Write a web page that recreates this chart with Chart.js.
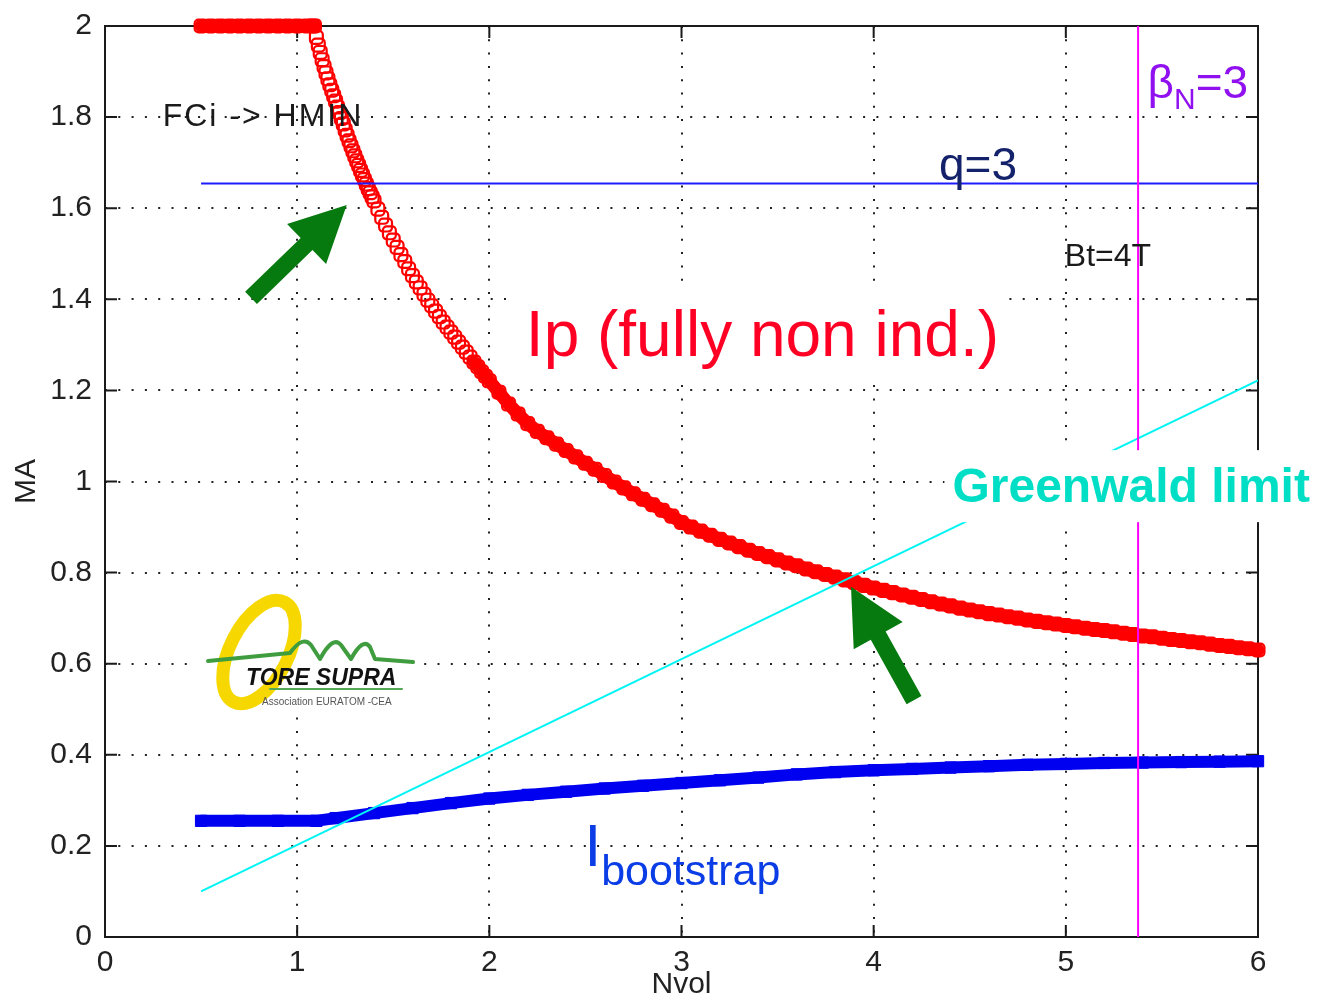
<!DOCTYPE html>
<html><head><meta charset="utf-8">
<script src="https://cdn.jsdelivr.net/npm/chart.js@4"></script>
<style>html,body{margin:0;padding:0;background:#fff}#wrap{width:1318px;height:1003px;position:relative}</style>
</head><body><div id="wrap"><canvas id="c" width="1318" height="1003"></canvas></div>
<script>
// ---------- data ----------
const ipX = [
 0.50,0.55,0.60,0.65,0.70,0.75,0.80,0.85,0.90,0.95,1.00,1.05,
 1.08,1.09,1.10,1.11,1.12,1.13,1.14,1.15,1.16,1.17,1.18,1.19,1.20,
 1.21,1.22,1.23,1.24,1.25,1.26,1.27,1.28,1.29,1.30,
 1.31,1.32,1.33,1.34,1.35,1.36,1.37,1.38,1.39,1.40,
 1.42,1.44,1.46,1.48,1.50,1.52,1.54,1.56,1.58,1.60,
 1.62,1.64,1.66,1.68,1.70,1.72,1.74,1.76,1.78,1.80,
 1.82,1.84,1.86,1.88,1.90,1.92,1.94,1.96,1.98,2.00,
 2.05,2.10,2.15,2.20,2.25,2.30,2.35,2.40,2.45,2.50,
 2.55,2.60,2.65,2.70,2.75,2.80,2.85,2.90,2.95,3.00,
 3.05,3.10,3.15,3.20,3.25,3.30,3.35,3.40,3.45,3.50,
 3.55,3.60,3.65,3.70,3.75,3.80,3.85,3.90,3.95,4.00,
 4.05,4.10,4.15,4.20,4.25,4.30,4.35,4.40,4.45,4.50,
 4.55,4.60,4.65,4.70,4.75,4.80,4.85,4.90,4.95,5.00,
 5.05,5.10,5.15,5.20,5.25,5.30,5.35,5.40,5.45,5.50,
 5.55,5.60,5.65,5.70,5.75,5.80,5.85,5.90,5.95,6.00
];
const ipY = [
 2.000,2.000,2.000,2.000,2.000,2.000,2.000,2.000,2.000,2.000,2.000,2.000,
 2.000,2.000,1.975,1.958,1.942,1.926,1.911,1.897,1.884,1.871,1.859,1.847,1.835,
 1.822,1.810,1.797,1.785,1.772,1.760,1.748,1.737,1.726,1.715,
 1.704,1.694,1.683,1.673,1.663,1.653,1.643,1.634,1.625,1.616,
 1.598,1.580,1.563,1.546,1.530,1.514,1.498,1.483,1.467,1.452,
 1.438,1.425,1.411,1.398,1.386,1.374,1.362,1.350,1.339,1.328,
 1.317,1.306,1.295,1.284,1.273,1.262,1.252,1.241,1.231,1.221,
 1.196,1.170,1.148,1.127,1.110,1.096,1.082,1.068,1.054,1.040,
 1.027,1.013,0.999,0.986,0.973,0.961,0.949,0.937,0.924,0.910,
 0.900,0.891,0.882,0.873,0.865,0.857,0.849,0.842,0.835,0.828,
 0.821,0.815,0.808,0.802,0.796,0.790,0.784,0.778,0.772,0.766,
 0.761,0.756,0.751,0.746,0.741,0.736,0.731,0.727,0.722,0.718,
 0.714,0.710,0.707,0.703,0.700,0.696,0.693,0.690,0.687,0.684,
 0.681,0.678,0.675,0.673,0.670,0.667,0.664,0.661,0.659,0.656,
 0.653,0.651,0.648,0.646,0.643,0.640,0.638,0.635,0.633,0.630
];
const bsX = [0.5,0.7,0.9,1.1,
 1.2,1.4,1.6,1.8,2.0,2.2,2.4,2.6,2.8,3.0,3.2,3.4,3.6,3.8,4.0,4.2,4.4,4.6,4.8,5.0,5.2,5.4,5.6,5.8,6.0];
const bsY = [0.255,0.255,0.255,0.255,
 0.261,0.272,0.283,0.294,0.304,0.312,0.319,0.326,0.332,0.338,0.344,0.350,0.357,0.362,0.366,0.369,0.372,0.375,0.378,0.380,0.382,0.383,0.384,0.385,0.386];
const gwX = [0.5, 6.0];          // Greenwald limit
const gwY = [0.100, 1.222];
const qX = [0.5, 6.0];           // q = 3
const qY = [1.654, 1.654];
const betaX = [5.376, 5.376];    // beta_N = 3
const betaY = [0, 2];
const xTicks = [0,1,2,3,4,5,6];
const xTickLabels = ['0','1','2','3','4','5','6'];
const yTicks = [0,0.2,0.4,0.6,0.8,1,1.2,1.4,1.6,1.8,2];
const yTickLabels = ['0','0.2','0.4','0.6','0.8','1','1.2','1.4','1.6','1.8','2'];
const arrowTails = [[0.760,1.403],[4.210,0.520]];
const arrowTips  = [[1.258,1.607],[3.882,0.769]];

const pts = (xs, ys) => xs.map((v, i) => ({x: v, y: ys[i]}));
const FONT = '"Liberation Sans", Arial, sans-serif';
const RED = '#ff0000';

function arrow(ctx, x0, y0, x1, y1) {
  const dx = x1 - x0, dy = y1 - y0, L = Math.hypot(dx, dy);
  const ux = dx / L, uy = dy / L, nx = -uy, ny = ux;
  const hl = 56, hw = 28, sw = 8.5;
  const bx = x1 - ux * hl, by = y1 - uy * hl;
  ctx.beginPath();
  ctx.moveTo(x0 + nx * sw, y0 + ny * sw);
  ctx.lineTo(bx + nx * sw, by + ny * sw);
  ctx.lineTo(bx + nx * hw, by + ny * hw);
  ctx.lineTo(x1, y1);
  ctx.lineTo(bx - nx * hw, by - ny * hw);
  ctx.lineTo(bx - nx * sw, by - ny * sw);
  ctx.lineTo(x0 - nx * sw, y0 - ny * sw);
  ctx.closePath();
  ctx.fill();
}

function boxedText(ctx, text, px, py, size, font, color, pad) {
  ctx.font = font;
  const w = ctx.measureText(text).width;
  ctx.fillStyle = '#fff';
  ctx.fillRect(px - pad, py - size * 1.08, w + 2 * pad, size * 1.5);
  ctx.fillStyle = color;
  ctx.fillText(text, px, py);
}

function drawLogo(ctx, a) {
  const L = a.left, T = a.top;
  const ox = L + 90, oy = T + 569; // logo box origin
  ctx.save();
  ctx.fillStyle = '#fff';
  ctx.fillRect(ox, oy, 225, 113);
  ctx.strokeStyle = '#f6d800';
  ctx.lineWidth = 13;
  ctx.beginPath();
  ctx.ellipse(ox + 64, oy + 57, 56, 29, -63 * Math.PI / 180, 0, Math.PI * 2);
  ctx.stroke();
  ctx.strokeStyle = '#3f9d3f';
  ctx.lineWidth = 4;
  ctx.lineJoin = 'round'; ctx.lineCap = 'round';
  ctx.beginPath();
  ctx.moveTo(ox + 13, oy + 66);
  ctx.lineTo(ox + 95, oy + 58);
  ctx.quadraticCurveTo(ox + 108, oy + 40, ox + 116, oy + 50);
  ctx.lineTo(ox + 125, oy + 64);
  ctx.quadraticCurveTo(ox + 138, oy + 40, ox + 146, oy + 50);
  ctx.lineTo(ox + 156, oy + 64);
  ctx.quadraticCurveTo(ox + 168, oy + 42, ox + 175, oy + 52);
  ctx.lineTo(ox + 180, oy + 64);
  ctx.lineTo(ox + 218, oy + 67);
  ctx.stroke();
  ctx.fillStyle = '#111';
  ctx.font = 'italic bold 23px ' + FONT;
  ctx.fillText('TORE SUPRA', ox + 51, oy + 90);
  ctx.strokeStyle = '#55a855';
  ctx.lineWidth = 2;
  ctx.beginPath(); ctx.moveTo(ox + 75, oy + 94); ctx.lineTo(ox + 207, oy + 94); ctx.stroke();
  ctx.fillStyle = '#555';
  ctx.font = '10px ' + FONT;
  ctx.fillText('Association EURATOM -CEA', ox + 67, oy + 110);
  ctx.restore();
}

const decor = {
  id: 'decor',
  beforeDatasetsDraw(chart) {
    const {ctx, chartArea: a, scales: {x, y}} = chart;
    ctx.save();
    ctx.strokeStyle = '#1a1a1a';
    ctx.lineWidth = 2;
    ctx.strokeRect(a.left, a.top, a.right - a.left, a.bottom - a.top);
    const tl = 12;
    ctx.beginPath();
    xTicks.forEach(v => {
      const p = x.getPixelForValue(v);
      ctx.moveTo(p, a.bottom); ctx.lineTo(p, a.bottom - tl);
      ctx.moveTo(p, a.top); ctx.lineTo(p, a.top + tl);
    });
    yTicks.forEach(v => {
      const p = y.getPixelForValue(v);
      ctx.moveTo(a.left, p); ctx.lineTo(a.left + tl, p);
      ctx.moveTo(a.right, p); ctx.lineTo(a.right - tl, p);
    });
    ctx.stroke();
    ctx.restore();
  },
  afterDatasetsDraw(chart) {
    const {ctx, chartArea: a, scales: {x, y}} = chart;
    const X = v => x.getPixelForValue(v), Y = v => y.getPixelForValue(v);
    ctx.save();
    ctx.textBaseline = 'alphabetic';
    ctx.fillStyle = '#067a0e';
    arrowTails.forEach((t, i) => arrow(ctx, X(t[0]), Y(t[1]), X(arrowTips[i][0]), Y(arrowTips[i][1])));
    drawLogo(ctx, a);
    ctx.fillStyle = '#1a1a1a';
    ctx.font = '32px ' + FONT;
    ctx.letterSpacing = '2px';
    ctx.fillText('FCi -> HMIN', X(0.30), Y(1.781));
    ctx.letterSpacing = '0px';
    ctx.font = '32px ' + FONT;
    ctx.fillText('Bt=4T', X(4.995), Y(1.473));
    ctx.fillStyle = '#13226b';
    ctx.font = '46px ' + FONT;
    ctx.fillText('q=3', X(4.34), Y(1.662));
    ctx.fillStyle = '#9010f0';
    let bx = X(5.425), by = Y(1.843);
    ctx.font = '46px ' + FONT;
    ctx.fillText('\u03B2', bx, by);
    bx += ctx.measureText('\u03B2').width;
    ctx.font = '30px ' + FONT;
    ctx.fillText('N', bx, by + 11);
    bx += ctx.measureText('N').width;
    ctx.font = '46px ' + FONT;
    ctx.fillText('=3', bx, by);
    boxedText(ctx, 'Ip (fully non ind.)', X(2.19), Y(1.276), 64, '64px ' + FONT, '#ff0024', 10);
    boxedText(ctx, 'Greenwald limit', X(4.41), Y(0.955), 48, 'bold 48px ' + FONT, '#00dfc6', 8);
    ctx.fillStyle = '#0b3de6';
    let ix = X(2.495), iy = Y(0.156);
    ctx.font = '60px ' + FONT;
    ctx.fillText('I', ix, iy);
    ix += ctx.measureText('I').width;
    ctx.font = '43px ' + FONT;
    ctx.fillText('bootstrap', ix, Y(0.114));
    ctx.restore();
  }
};

new Chart(document.getElementById('c'), {
  type: 'scatter',
  data: {
    datasets: [
      { label: 'beta', data: pts(betaX, betaY), showLine: true, borderColor: '#ff00ff', borderWidth: 2, pointRadius: 0, clip: false },
      { label: 'q', data: pts(qX, qY), showLine: true, borderColor: '#1c1cff', borderWidth: 2, pointRadius: 0 },
      { label: 'Greenwald', data: pts(gwX, gwY), showLine: true, borderColor: '#00f4f4', borderWidth: 2, pointRadius: 0 },
      { label: 'Ibootstrap', data: pts(bsX, bsY), showLine: true, borderColor: '#0000f0', borderWidth: 12,
        borderCapStyle: 'round', pointStyle: 'rect', pointRadius: 8, pointBackgroundColor: '#0000f0', pointBorderColor: '#0000f0', pointBorderWidth: 1, clip: false },
      { label: 'Ip', data: pts(ipX, ipY), showLine: true, borderWidth: 13, borderCapStyle: 'round',
        segment: { borderColor: c => Math.abs((c.p1.y - c.p0.y) / (c.p1.x - c.p0.x)) > 1.25 ? 'rgba(0,0,0,0)' : RED },
        borderColor: RED, pointStyle: 'rectRounded', pointRadius: 7.5, pointBorderWidth: 2.2,
        pointBorderColor: RED, pointBackgroundColor: 'rgba(0,0,0,0)', clip: false }
    ]
  },
  options: {
    responsive: false,
    animation: false,
    events: [],
    layout: { padding: { left: 0, top: 26, right: 60, bottom: 0 } },
    plugins: { legend: { display: false }, tooltip: { enabled: false } },
    scales: {
      x: {
        type: 'linear', min: 0, max: 6,
        afterBuildTicks: s => { s.ticks = xTicks.map(v => ({value: v})); },
        afterFit: s => { s.height = 66; s.paddingLeft = 0; s.paddingRight = 0; },
        ticks: { callback: (v, i) => xTickLabels[i], font: {family: FONT, size: 30}, color: '#222', padding: 8, maxRotation: 0 },
        grid: { color: '#222', lineWidth: 2, drawTicks: false },
        border: { display: false, dash: [2, 11.3] },
        title: { display: true, text: 'Nvol', font: {family: FONT, size: 30}, color: '#222', padding: {top: 0, bottom: 0} }
      },
      y: {
        type: 'linear', min: 0, max: 2,
        afterBuildTicks: s => { s.ticks = yTicks.map(v => ({value: v})); },
        afterFit: s => { s.width = 105; s.paddingTop = 0; s.paddingBottom = 0; },
        ticks: { callback: (v, i) => yTickLabels[i], font: {family: FONT, size: 30}, color: '#222', padding: 13 },
        grid: { color: '#222', lineWidth: 2, drawTicks: false },
        border: { display: false, dash: [2, 11.3] },
        title: { display: true, text: 'MA', font: {family: FONT, size: 30}, color: '#222', padding: {top: 9, bottom: 0} }
      }
    }
  },
  plugins: [decor]
});
</script>
</body></html>
